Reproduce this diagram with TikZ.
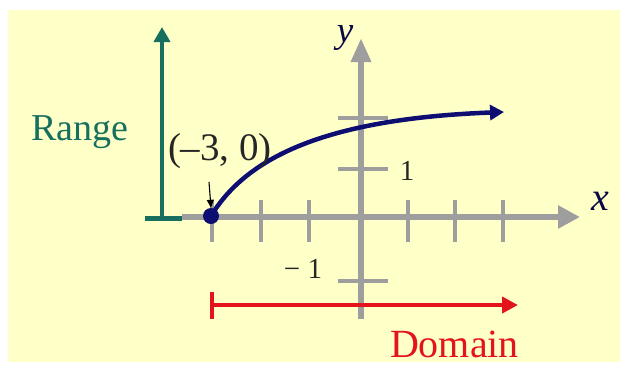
\documentclass[tikz,border=0pt]{standalone}
\usepackage{fontspec}
\setmainfont{Liberation Serif}
\usetikzlibrary{arrows.meta}
\definecolor{bgyellow}{HTML}{FFFFC8}
\definecolor{axisgray}{HTML}{9E9E9E}
\definecolor{rangeteal}{HTML}{17705F}
\definecolor{curvenavy}{HTML}{0D0D72}
\definecolor{domainred}{HTML}{E3141B}
\tikzset{
  axisline/.style={draw=axisgray, line width=6pt},
  tickline/.style={draw=axisgray, line width=4.5pt},
  lbl/.style={inner sep=0pt, outer sep=0pt},
}
\begin{document}
\begin{tikzpicture}[x=1pt,y=-1pt]
\useasboundingbox (0,0) rectangle (624,365);
\fill[white] (0,0) rectangle (624,365);
\fill[bgyellow] (8,10) rectangle (620,362);
% coordinates
\coordinate (xl) at (182,217);
\coordinate (xr) at (580,217);
\coordinate (yb) at (361,319);
\coordinate (yt) at (361,38);
% axes
\draw[axisline, -{Triangle[length=22pt,width=22pt]}] (xl) -- (xr);
\draw[axisline, -{Triangle[length=24pt,width=19pt]}] (yb) -- (yt);
% x ticks
\foreach \tx in {212,261,309,408,455,503}{
  \draw[tickline] (\tx,200) -- (\tx,242);
}
% y ticks
\foreach \ty in {118,169,281}{
  \draw[tickline] (338,\ty) -- (388,\ty);
}
% range arrow
\coordinate (rbl) at (145,218);
\coordinate (rbr) at (182,218);
\coordinate (rb) at (162,218);
\coordinate (rt) at (162,27);
\draw[rangeteal, line width=5pt] (rbl) -- (rbr);
\draw[rangeteal, line width=4pt, -{Triangle[length=15pt,width=16pt]}] (rb) -- (rt);
% domain arrow
\coordinate (dl) at (212,305);
\coordinate (dr) at (518,305);
\coordinate (dbt) at (212,292);
\coordinate (dbb) at (212,319);
\draw[domainred, line width=4.5pt] (dbt) -- (dbb);
\draw[domainred, line width=4.5pt, -{Triangle[length=16pt,width=16pt]}] (dl) -- (dr);
% curve
\node[circle, fill=curvenavy, minimum size=16pt, inner sep=0pt] (dot) at (211,216) {};
\coordinate (ctip) at (504,112);
\draw[curvenavy, line width=4.5pt, -{Triangle[length=14pt,width=15pt]}]
  (dot.center) .. controls (245,160) and (320,119) .. (ctip);
% labels
\node[lbl, anchor=base west, text=rangeteal, font=\fontsize{38}{40}\selectfont] (range) at (31,140) {Range};
\node[lbl, anchor=base west, text=black!85, font=\fontsize{39}{41}\selectfont] (pt) at (168,160) {(–3, 0)};
\node[lbl, anchor=base, text=curvenavy!60!black, font=\fontsize{37}{39}\selectfont\itshape] (ylab) at (345,42) {y};
\node[lbl, anchor=base, text=curvenavy!60!black, font=\fontsize{40}{42}\selectfont\itshape] (xlab) at (600,210) {x};
\node[lbl, anchor=base, text=black!85, font=\fontsize{29}{31}\selectfont] (one) at (407,180) {1};
\node[lbl, anchor=base, text=black!85, font=\fontsize{29}{31}\selectfont] (mone) at (303,278) {− 1};
\node[lbl, anchor=base west, text=domainred, font=\fontsize{40}{42}\selectfont] (domain) at (390,357) {Domain};
% small pointer arrow
\coordinate (ptr) at (209,182);
\draw[black, line width=1.1pt, -{Triangle[length=8pt,width=7pt]}] (ptr) -- (dot.north);
\end{tikzpicture}
\end{document}
